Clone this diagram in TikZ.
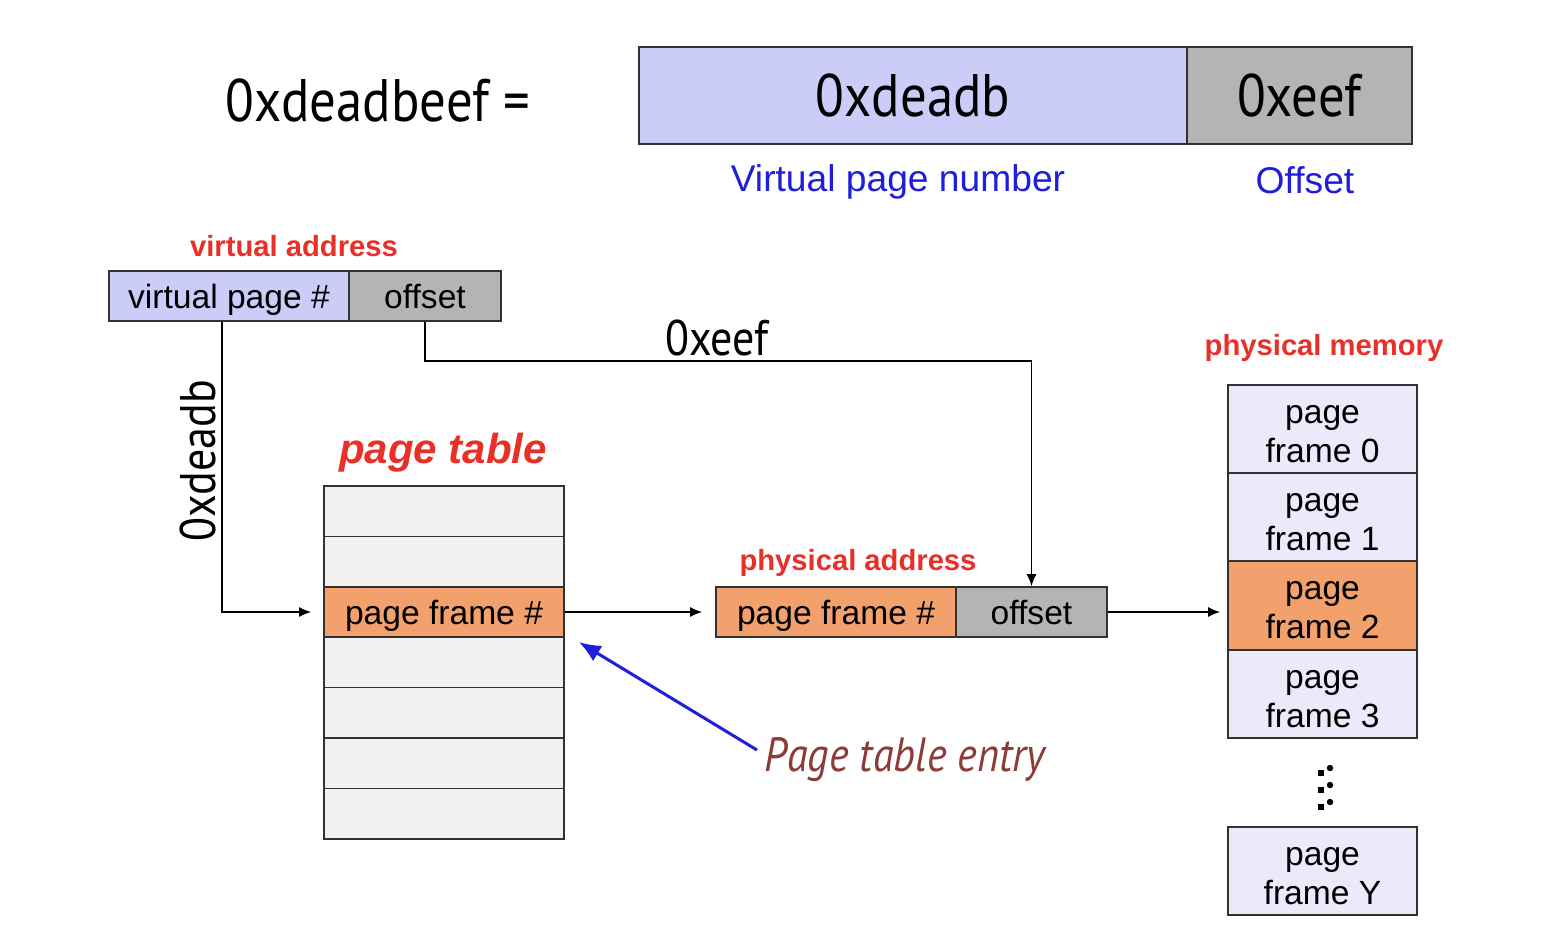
\documentclass[tikz,border=0pt]{standalone}
\usepackage{fontspec}
\setmainfont{Liberation Sans}
\newfontfamily\hum[FakeStretch=0.88]{PT Sans}
\usetikzlibrary{arrows.meta}
\definecolor{vpblue}{RGB}{204,204,248}
\definecolor{offgray}{RGB}{180,180,180}
\definecolor{pforange}{RGB}{242,160,108}
\definecolor{ptgray}{RGB}{242,241,240}
\definecolor{memlav}{RGB}{234,234,250}
\definecolor{edge}{RGB}{50,50,50}
\definecolor{lblred}{RGB}{232,48,40}
\definecolor{lblblue}{RGB}{30,30,220}
\definecolor{lblbrown}{RGB}{140,60,55}
\tikzset{
  cell/.style={draw=edge, line width=0.8pt, inner sep=0pt, minimum height=25pt,
    font=\fontsize{16.8}{19}\selectfont, text=black, text height=12.1pt, text depth=0pt},
  bigcell/.style={draw=edge, line width=0.8pt, inner sep=0pt, minimum height=48.5pt,
    font=\hum\fontsize{30}{34}\selectfont},
  memcell/.style={draw=edge, line width=0.8pt, inner sep=0pt, fill=memlav, minimum width=94.5pt, minimum height=44pt},
  memtext/.style={align=center, inner sep=0pt, font=\fontsize{16.8}{19.5}\selectfont},
  redlbl/.style={text=lblred, font=\bfseries\fontsize{14.6}{17}\selectfont},
  conn/.style={draw=black, line width=0.8pt, -{Latex[length=6pt,width=5pt]}},
  bluearrow/.style={draw=lblblue, line width=1.5pt, -{Latex[length=11pt,width=9pt]}},
  humlbl/.style={font=\hum\fontsize{25}{28}\selectfont}
}
\begin{document}
\begin{tikzpicture}[x=0.5pt,y=-0.5pt]
\useasboundingbox (0,0) rectangle (1566,928);
\fill[white] (0,0) rectangle (1566,928);

% top equation
\node[font=\hum\fontsize{30}{34}\selectfont] (eq) at (378,100) {0xdeadbeef =};
\node[bigcell, fill=vpblue, minimum width=274pt] (bvpn) at (913,95.5) {0xdeadb};
\node[bigcell, fill=offgray, minimum width=112.5pt] (boff) at (1299.5,95.5) {0xeef};
\node[text=lblblue, font=\fontsize{18.6}{21}\selectfont] (vpnlbl) at (898,182) {Virtual page number};
\node[text=lblblue, font=\fontsize{18.6}{21}\selectfont] (offlbl) at (1305,180) {Offset};

% virtual address
\node[redlbl] (valbl) at (294,246) {virtual address};
\node[cell, fill=vpblue, minimum width=120pt] (vpn) at (229,296) {virtual page \#};
\node[cell, fill=offgray, minimum width=76pt] (voff) at (425,296) {offset};

% page table
\node[text=lblred, font=\bfseries\itshape\fontsize{21}{24}\selectfont] (ptlbl) at (443,453) {page table};
\foreach \i in {0,1,3,4,5,6} {
  \node[cell, fill=ptgray, minimum width=120pt, minimum height=25.2pt] (pt\i) at (444,{486+50.4*(\i+0.5)}) {};
}
\node[cell, fill=pforange, minimum width=120pt, minimum height=25.2pt] (pte) at (444,{486+50.4*2.5}) {page frame \#};

% physical address
\node[redlbl] (palbl) at (858,563) {physical address};
\node[cell, fill=pforange, minimum width=120pt] (pfn) at (836,612) {page frame \#};
\node[cell, fill=offgray, minimum width=75.5pt] (poff) at (1031.5,612) {offset};

% physical memory
\node[redlbl] (pmlbl) at (1324,348) {physical memory};
\node[memcell] (m0) at (1322.5,429) {};
\node[memcell] (m1) at (1322.5,517) {};
\node[memcell, fill=pforange] (m2) at (1322.5,605.5) {};
\node[memcell] (m3) at (1322.5,694) {};
\node[memcell] (mY) at (1322.5,871) {};
\node[memtext] (m0t) at (1322.5,434) {page\\frame 0};
\node[memtext] (m1t) at (1322.5,522) {page\\frame 1};
\node[memtext] (m2t) at (1322.5,610.5) {page\\frame 2};
\node[memtext] (m3t) at (1322.5,699) {page\\frame 3};
\node[memtext] (mYt) at (1322.5,876) {page\\frame Y};
\foreach \yy in {768,785,802} {
  \fill[black] (1330,\yy) circle (3.2);
  \fill[black] (1318,{\yy+2}) rectangle (1324,{\yy+8});
}

% connectors
\draw[conn, shorten >=6pt] ([xshift=-3.5pt]vpn.south) |- (pte.west);
\node[humlbl, rotate=90] (deadlbl) at (198,461) {0xdeadb};
\coordinate (bend) at (425,361);
\draw[conn] (voff.south) -- (bend) -| (poff.north);
\node[humlbl] (eeflbl) at (717,338) {0xeef};
\draw[conn, shorten >=6.5pt] (pte.east) -- (pfn.west);
\draw[conn, shorten >=3.5pt] (poff.east) -- (poff.east -| m2.west);

% page table entry
\node[text=lblbrown, font=\hum\itshape\fontsize{24}{27}\selectfont] (pelbl) at (905,760) {Page table entry};
\coordinate (tail) at (757,750);
\draw[bluearrow] (tail) -- ([shift={(7pt,-2pt)}]pte.south east);
\end{tikzpicture}
\end{document}
